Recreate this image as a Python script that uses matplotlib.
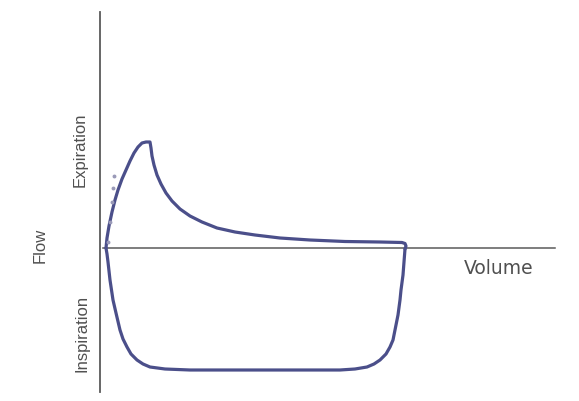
import matplotlib
matplotlib.use("Agg")
import matplotlib.pyplot as plt

# Flow-volume loop (volume in L, flow in L/s, expiration positive)
exp_volume = [0.06, 0.08, 0.12, 0.18, 0.24, 0.30, 0.38, 0.46, 0.54, 0.62, 0.70, 0.78, 0.86, 0.94,
              0.96, 0.98, 1.02, 1.08, 1.16, 1.26, 1.38, 1.54, 1.74, 1.98, 2.28, 2.64, 3.04,
              3.54, 4.14, 4.84, 5.54, 5.98, 6.04, 6.06, 6.04]
exp_flow = [0.0, 0.5, 1.1, 1.8, 2.4, 2.9, 3.45, 3.9, 4.35, 4.75, 5.05, 5.25, 5.3, 5.3,
            5.0, 4.6, 4.15, 3.65, 3.2, 2.75, 2.35, 1.95, 1.6, 1.3, 1.0, 0.8, 0.65,
            0.5, 0.4, 0.325, 0.3, 0.275, 0.225, 0.1, -0.05]
insp_volume = [6.04, 6.02, 6.00, 5.96, 5.94, 5.90, 5.84, 5.80, 5.74, 5.66, 5.54, 5.42, 5.28,
               5.04, 4.74, 1.74, 1.24, 0.94, 0.80, 0.68, 0.56, 0.48, 0.40, 0.34, 0.26, 0.20,
               0.14, 0.10, 0.08, 0.06]
insp_flow = [-0.05, -0.7, -1.35, -2.1, -2.6, -3.35, -4.1, -4.6, -4.95, -5.3, -5.6, -5.8, -5.95,
             -6.05, -6.1, -6.1, -6.05, -5.95, -5.8, -5.6, -5.3, -4.95, -4.55, -4.1, -3.25, -2.6,
             -1.6, -0.7, -0.3, 0.0]
# faint dotted reference trace near the start of expiration
dot_volume = [0.1, 0.14, 0.18, 0.2, 0.22]
dot_flow = [0.3, 1.3, 2.3, 3.0, 3.6]

labels = {"x": "Volume", "y": "Flow", "up": "Expiration", "down": "Inspiration"}

fig = plt.figure(figsize=(5.79, 4.01), dpi=100)
ax = fig.add_axes([0, 0, 1, 1])
ax.set_xlim(-2.06, 9.52)
ax.set_ylim(-7.65, 12.4)
ax.axis("off")

axis_col = "#5a5a5a"
ax.plot([0, 9.04], [0, 0], color=axis_col, lw=1.1)
ax.plot([-0.06, -0.06], [-7.2, 11.8], color=axis_col, lw=1.3)

loop_col = "#4b4f8a"
ax.plot(exp_volume, exp_flow, color=loop_col, lw=2.3, solid_joinstyle="round",
        solid_capstyle="round")
ax.plot(insp_volume, insp_flow, color=loop_col, lw=2.3, solid_joinstyle="round",
        solid_capstyle="round")
ax.plot(dot_volume, dot_flow, color="#9a9ab8", lw=0, marker="o", ms=1.8)

sans = ["Liberation Sans", "DejaVu Sans"]
txt_col = "#505050"
ax.text(-0.46, 4.9, labels["up"], rotation=90, ha="center", va="center",
        fontsize=12, color=txt_col, family=sans)
ax.text(-0.42, -4.25, labels["down"], rotation=90, ha="center", va="center",
        fontsize=12, color=txt_col, family=sans)
ax.text(-1.26, 0.15, labels["y"], rotation=90, ha="center", va="center",
        fontsize=12, color=txt_col, family=sans)
ax.text(7.92, -1.0, labels["x"], ha="center", va="center",
        fontsize=13.5, color=txt_col, family=["DejaVu Sans"])

fig.savefig("out.png", dpi=100)
